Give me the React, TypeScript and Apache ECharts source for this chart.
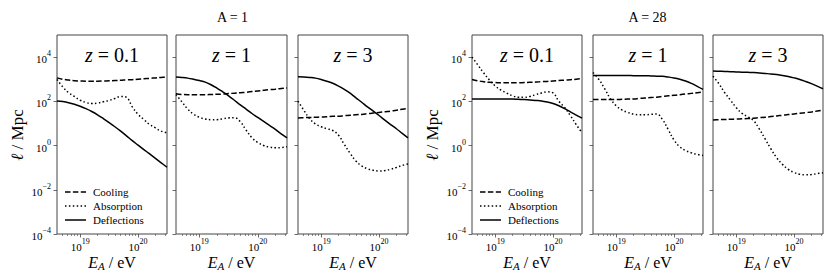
import { useEffect, useRef } from "react";
import * as echarts from "echarts";

// log10(E_A / eV) sample positions
const logEnergy = [18.6, 18.7, 18.8, 18.9, 19.0, 19.1, 19.2, 19.3, 19.4, 19.5, 19.6, 19.7, 19.8, 19.9, 20.0, 20.1, 20.2, 20.3, 20.4, 20.5];

// log10(ℓ / Mpc) — A = 1
const a1z01Cooling = [3.06, 3.0, 2.96, 2.93, 2.92, 2.91, 2.91, 2.91, 2.92, 2.93, 2.94, 2.95, 2.97, 2.98, 3.0, 3.02, 3.04, 3.06, 3.08, 3.10];
const a1z01Absorption = [2.99, 2.65, 2.39, 2.22, 2.05, 1.95, 1.90, 1.92, 1.98, 2.04, 2.13, 2.22, 2.18, 1.75, 1.41, 1.18, 0.95, 0.80, 0.65, 0.58];
const a1z01Deflections = [2.02, 1.99, 1.94, 1.87, 1.78, 1.67, 1.54, 1.39, 1.22, 1.04, 0.85, 0.65, 0.44, 0.22, 0.02, -0.18, -0.38, -0.58, -0.78, -0.98];

const a1z1Cooling = [2.34, 2.31, 2.30, 2.30, 2.30, 2.30, 2.31, 2.32, 2.33, 2.35, 2.37, 2.39, 2.41, 2.44, 2.47, 2.50, 2.53, 2.55, 2.58, 2.60];
const a1z1Absorption = [2.31, 1.98, 1.65, 1.42, 1.28, 1.20, 1.17, 1.17, 1.21, 1.25, 1.26, 1.08, 0.70, 0.35, 0.14, 0.0, -0.07, -0.10, -0.09, -0.05];
const a1z1Deflections = [3.10, 3.08, 3.05, 3.00, 2.94, 2.87, 2.75, 2.60, 2.43, 2.25, 2.05, 1.84, 1.65, 1.45, 1.27, 1.09, 0.91, 0.73, 0.53, 0.35];

const a1z3Cooling = [1.25, 1.26, 1.27, 1.28, 1.29, 1.30, 1.32, 1.33, 1.35, 1.37, 1.39, 1.41, 1.44, 1.47, 1.50, 1.53, 1.56, 1.60, 1.64, 1.68];
const a1z3Absorption = [2.01, 1.60, 1.22, 0.98, 0.85, 0.76, 0.68, 0.47, 0.05, -0.35, -0.70, -0.92, -1.05, -1.12, -1.15, -1.13, -1.07, -0.99, -0.90, -0.83];
const a1z3Deflections = [3.11, 3.10, 3.08, 3.05, 2.99, 2.91, 2.82, 2.69, 2.54, 2.37, 2.16, 1.96, 1.75, 1.56, 1.36, 1.15, 0.95, 0.76, 0.55, 0.35];

// log10(ℓ / Mpc) — A = 28
const a28z01Cooling = [2.99, 2.93, 2.89, 2.86, 2.85, 2.84, 2.84, 2.84, 2.84, 2.85, 2.86, 2.87, 2.89, 2.90, 2.92, 2.94, 2.96, 2.98, 3.00, 3.03];
const a28z01Absorption = [4.0, 3.65, 3.29, 2.97, 2.70, 2.51, 2.37, 2.25, 2.18, 2.18, 2.22, 2.30, 2.38, 2.43, 2.38, 2.0, 1.72, 1.35, 0.95, 0.58];
const a28z01Deflections = [2.11, 2.11, 2.11, 2.11, 2.11, 2.10, 2.10, 2.10, 2.09, 2.08, 2.06, 2.04, 2.02, 1.97, 1.90, 1.80, 1.67, 1.52, 1.38, 1.24];

const a28z1Cooling = [2.08, 2.08, 2.08, 2.08, 2.08, 2.09, 2.10, 2.11, 2.13, 2.15, 2.17, 2.19, 2.22, 2.25, 2.27, 2.30, 2.33, 2.36, 2.39, 2.42];
const a28z1Absorption = [3.3, 3.0, 2.58, 2.12, 1.80, 1.61, 1.50, 1.42, 1.39, 1.39, 1.41, 1.43, 1.18, 0.72, 0.25, -0.06, -0.23, -0.33, -0.40, -0.45];
const a28z1Deflections = [3.17, 3.17, 3.17, 3.17, 3.17, 3.17, 3.17, 3.16, 3.16, 3.16, 3.15, 3.14, 3.13, 3.10, 3.06, 3.00, 2.92, 2.81, 2.68, 2.54];

const a28z3Cooling = [1.16, 1.17, 1.18, 1.19, 1.20, 1.21, 1.22, 1.24, 1.26, 1.28, 1.31, 1.34, 1.37, 1.40, 1.43, 1.46, 1.49, 1.52, 1.56, 1.60];
const a28z3Absorption = [3.14, 2.80, 2.40, 2.06, 1.72, 1.46, 1.30, 1.13, 0.75, 0.30, -0.15, -0.55, -0.85, -1.08, -1.22, -1.30, -1.32, -1.31, -1.27, -1.23];
const a28z3Deflections = [3.37, 3.36, 3.35, 3.34, 3.33, 3.32, 3.31, 3.30, 3.28, 3.26, 3.24, 3.21, 3.17, 3.12, 3.06, 2.99, 2.90, 2.80, 2.69, 2.57];

const seriesNames = ["Cooling", "Absorption", "Deflections"];
const groupTitles = ["A = 1", "A = 28"];
const redshiftLabels = ["0.1", "1", "3", "0.1", "1", "3"];
const yTickExponents = [-4, -2, 0, 2, 4];
const xTickExponents = [19, 20];
const minorMultipliers = [2, 3, 4, 5, 6, 7, 8, 9];
const minorDecades = [18, 19, 20];

const panelData = [
  [a1z01Cooling, a1z01Absorption, a1z01Deflections],
  [a1z1Cooling, a1z1Absorption, a1z1Deflections],
  [a1z3Cooling, a1z3Absorption, a1z3Deflections],
  [a28z01Cooling, a28z01Absorption, a28z01Deflections],
  [a28z1Cooling, a28z1Absorption, a28z1Deflections],
  [a28z3Cooling, a28z3Absorption, a28z3Deflections],
];

const FONT = "Liberation Serif";
const FRAME = "#444";
const X_MIN = 18.6;
const X_MAX = 20.5;
const Y_MIN = -4;
const Y_MAX = 5;

const panels = [
  { left: 57, width: 110, labels: true },
  { left: 176, width: 111, labels: false },
  { left: 298, width: 110, labels: false },
  { left: 472, width: 110, labels: true },
  { left: 593, width: 110, labels: false },
  { left: 713, width: 110, labels: false },
];
const TOP = 35;
const HEIGHT = 199;

const lineDashes: any[] = [[5.5, 2.4], [1.5, 2.4], null];

const expText = (v: number) => (v < 0 ? "\u2212" + String(-v) : String(v));

let measureCtx: CanvasRenderingContext2D | null = null;
function measure(text: string, size: number, italic: boolean) {
  if (!measureCtx) measureCtx = document.createElement("canvas").getContext("2d");
  if (!measureCtx) return text.length * size * 0.5;
  measureCtx.font = `${italic ? "italic " : ""}${size}px "${FONT}"`;
  return measureCtx.measureText(text).width;
}

type Piece = { text: string; size: number; italic: boolean; dy?: number };

// a row of plain texts laid out left-to-right and centred on (0,0)
function textRow(pieces: Piece[]) {
  const widths = pieces.map((p) => measure(p.text, p.size, p.italic));
  const total = widths.reduce((a, b) => a + b, 0);
  let x = -total / 2;
  return pieces.map((p, i) => {
    const el = {
      type: "text",
      x,
      y: p.dy || 0,
      silent: true,
      style: {
        text: p.text,
        fontFamily: FONT,
        fontSize: p.size,
        fontStyle: p.italic ? "italic" : "normal",
        fill: "#000",
        align: "left",
        verticalAlign: "middle",
      },
    };
    x += widths[i];
    return el;
  });
}

export default function App() {
  const ref = useRef<HTMLDivElement>(null);
  useEffect(() => {
    if (!ref.current) return;
    const chart = echarts.init(ref.current, undefined, { renderer: "svg" });

    const minorTicks: number[] = [];
    minorDecades.forEach((d) =>
      minorMultipliers.forEach((m) => {
        const v = Math.log10(m) + d;
        if (v > X_MIN + 0.01 && v < X_MAX - 0.005) minorTicks.push(v);
      })
    );

    const powRich = {
      b: { fontSize: 11, fontFamily: FONT, color: "#000", verticalAlign: "bottom", lineHeight: 15 },
      s: { fontSize: 8, fontFamily: FONT, color: "#000", verticalAlign: "top", lineHeight: 9 },
    };

    const grid: any[] = [];
    const xAxis: any[] = [];
    const yAxis: any[] = [];
    const series: any[] = [];
    const graphic: any[] = [];

    panels.forEach((p, i) => {
      grid.push({
        left: p.left,
        top: TOP,
        width: p.width,
        height: HEIGHT,
        show: true,
        borderColor: FRAME,
        borderWidth: 1,
        backgroundColor: "transparent",
      });
      xAxis.push({
        type: "value",
        gridIndex: i,
        position: "bottom",
        min: X_MIN,
        max: X_MAX,
        axisLine: { show: false, onZero: false },
        splitLine: { show: false },
        axisTick: { show: true, customValues: xTickExponents, length: 3.5, lineStyle: { color: FRAME, width: 0.8 } },
        axisLabel: {
          show: true,
          customValues: xTickExponents,
          margin: 3,
          fontFamily: FONT,
          fontSize: 11,
          color: "#000",
          formatter: (v: number) => `{b|10}{s|${expText(v)}}`,
          rich: powRich,
        },
      });
      xAxis.push({
        type: "value",
        gridIndex: i,
        position: "bottom",
        min: X_MIN,
        max: X_MAX,
        axisLine: { show: false, onZero: false },
        splitLine: { show: false },
        axisTick: { show: true, customValues: minorTicks, length: 2, lineStyle: { color: FRAME, width: 0.6 } },
        axisLabel: { show: false },
      });
      yAxis.push({
        type: "value",
        gridIndex: i,
        min: Y_MIN,
        max: Y_MAX,
        axisLine: { show: false, onZero: false },
        splitLine: { show: false },
        axisTick: { show: true, customValues: yTickExponents, length: 3.5, lineStyle: { color: FRAME, width: 0.8 } },
        axisLabel: {
          show: p.labels,
          customValues: yTickExponents,
          margin: 6,
          fontFamily: FONT,
          fontSize: 11,
          color: "#000",
          formatter: (v: number) => `{b|10}{s|${expText(v)}}`,
          rich: powRich,
        },
      });
      panelData[i].forEach((arr, k) => {
        series.push({
          name: seriesNames[k],
          type: "line",
          xAxisIndex: 2 * i,
          yAxisIndex: i,
          data: logEnergy.map((x, j) => [x, arr[j]]),
          showSymbol: false,
          symbol: "none",
          smooth: 0.4,
          itemStyle: { color: "#000" },
          lineStyle: { color: "#000", width: 1.5, type: lineDashes[k] || "solid" },
          silent: true,
        });
      });
      const cx = p.left + p.width / 2;
      graphic.push({
        type: "group",
        x: cx,
        y: 55,
        children: textRow([
          { text: "z", size: 20, italic: true },
          { text: " = " + redshiftLabels[i], size: 20, italic: false },
        ]),
      });
      graphic.push({
        type: "group",
        x: cx,
        y: 262,
        children: textRow([
          { text: "E", size: 16, italic: true },
          { text: "A", size: 11, italic: true, dy: 4 },
          { text: " / eV", size: 16, italic: false },
        ]),
      });
    });

    [0, 3].forEach((pi, g) => {
      const left = panels[pi].left;
      graphic.push({
        type: "group",
        x: left - 40,
        y: TOP + 100,
        rotation: Math.PI / 2,
        children: textRow([
          { text: "\u2113", size: 17, italic: true },
          { text: " / Mpc", size: 17, italic: false },
        ]),
      });
      const groupCenter = (panels[pi].left + panels[pi + 2].left + panels[pi + 2].width) / 2;
      graphic.push({
        type: "text",
        x: groupCenter,
        y: 17,
        silent: true,
        style: {
          text: groupTitles[g],
          align: "center",
          verticalAlign: "middle",
          fontFamily: FONT,
          fontSize: 14,
          fill: "#000",
        },
      });
      // legend
      const lx = left + 8;
      seriesNames.forEach((name, k) => {
        const ly = 192 + k * 14;
        graphic.push({
          type: "line",
          shape: { x1: lx, y1: ly, x2: lx + 21, y2: ly },
          style: { stroke: "#000", lineWidth: 1.5, lineDash: lineDashes[k] || null },
          silent: true,
        });
        graphic.push({
          type: "text",
          x: lx + 28,
          y: ly,
          silent: true,
          style: {
            text: name,
            align: "left",
            verticalAlign: "middle",
            fontFamily: FONT,
            fontSize: 11,
            fill: "#000",
          },
        });
      });
    });

    chart.setOption({
      animation: false,
      backgroundColor: "#fff",
      textStyle: { fontFamily: FONT },
      grid,
      xAxis,
      yAxis,
      series,
      graphic,
    });
    return () => chart.dispose();
  }, []);
  return <div ref={ref} style={{ position: "fixed", left: 0, top: 0, width: 830, height: 279 }} />;
}
